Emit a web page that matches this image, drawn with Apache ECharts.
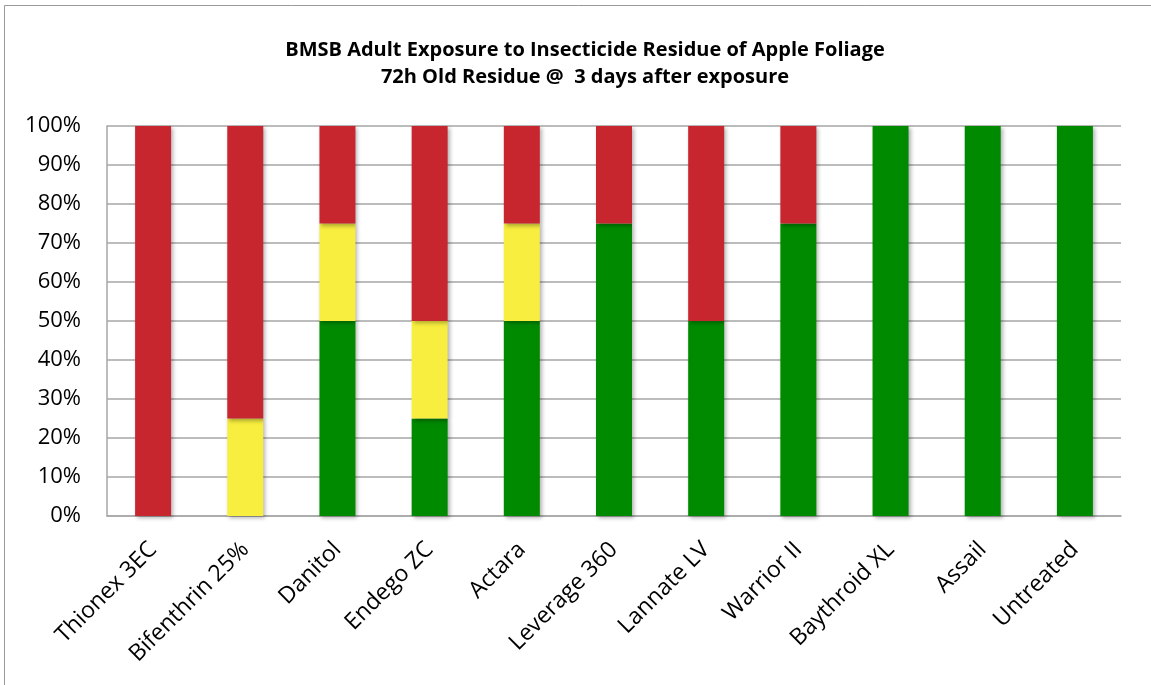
<!DOCTYPE html>
<html><head><meta charset="utf-8">
<script src="https://cdn.jsdelivr.net/npm/echarts@6/dist/echarts.min.js"></script>
<style>html,body{margin:0;padding:0;background:#fff}#c{width:1151px;height:685px}</style>
</head><body><div id="c"></div>
<script>
const categories = ["Thionex 3EC","Bifenthrin 25%","Danitol","Endego ZC","Actara","Leverage 360","Lannate LV","Warrior II","Baythroid XL","Assail","Untreated"];
const greenVals  = [0, 0, 50, 25, 50, 75, 50, 75, 100, 100, 100];
const yellowVals = [0, 25, 25, 25, 25, 0, 0, 0, 0, 0, 0];
const redVals    = [100, 75, 25, 50, 25, 25, 50, 25, 0, 0, 0];
const titleLines = ["BMSB Adult Exposure to Insecticide Residue of Apple Foliage", "72h Old Residue @  3 days after exposure"];

const chart = echarts.init(document.getElementById('c'));
const barStyle = (c) => ({color: c, shadowBlur: 4, shadowOffsetX: 2, shadowOffsetY: 2, shadowColor: 'rgba(0,0,0,0.3)'});
chart.setOption({
  animation: false,
  graphic: [{type: 'rect', shape: {x: 4.5, y: 5.5, width: 1300, height: 900}, style: {fill: 'none', stroke: '#999', lineWidth: 1}}],
  title: {
    text: titleLines.join('\n'), left: 580, top: 32, textAlign: 'center',
    textStyle: {fontFamily: 'Open Sans', fontWeight: 'bold', fontSize: 20, lineHeight: 27, color: '#000'}
  },
  grid: {left: 107, right: 30, top: 126, bottom: 169},
  xAxis: {
    type: 'category', data: categories,
    axisLine: {lineStyle: {color: '#A6A6A6', width: 1.5}},
    axisTick: {show: false},
    axisLabel: {rotate: 45, interval: 0, margin: 30, fontFamily: 'Open Sans', fontSize: 23, color: '#000'}
  },
  yAxis: {
    type: 'value', min: 0, max: 100, interval: 10,
    axisLine: {show: true, lineStyle: {color: '#A6A6A6', width: 1.5}},
    axisTick: {show: false},
    splitLine: {lineStyle: {color: '#A6A6A6', width: 1.5}},
    axisLabel: {formatter: '{value}%', margin: 26, fontFamily: 'Open Sans', fontSize: 22, color: '#000'}
  },
  series: [
    {type: 'bar', stack: 't', data: greenVals, barWidth: 36, itemStyle: barStyle('#008A00')},
    {type: 'bar', stack: 't', data: yellowVals, barWidth: 36, itemStyle: barStyle('#F8EE40')},
    {type: 'bar', stack: 't', data: redVals, barWidth: 36, itemStyle: barStyle('#C8262F')}
  ]
});
</script></body></html>
